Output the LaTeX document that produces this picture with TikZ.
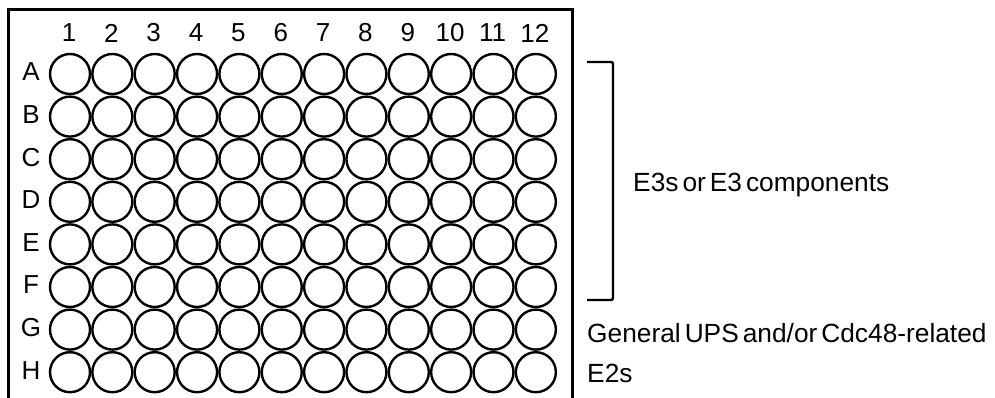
\documentclass[tikz,border=0pt]{standalone}
\usepackage{fontspec}
\setmainfont{Liberation Sans}
\usetikzlibrary{positioning}
\newcommand\tightwords{\spaceskip=4pt plus 1pt\relax}

\begin{document}
\begin{tikzpicture}[x=1pt,y=-1pt,
		well/.style={line width=2.4pt},
		platelbl/.style={inner sep=0pt,font=\fontsize{26}{30}\selectfont},
		sidelbl/.style={inner sep=0pt,anchor=base west,font=\fontsize{26.3}{31}\selectfont\tightwords}]
		\useasboundingbox (0,0) rectangle (995,398);
		% plate outline, open at the bottom
		\draw[line width=3pt] (8,398)--(8,10)--(572,10)--(572,398);
		\foreach \c in {1,...,12}
		\node[platelbl] (col\c) at ({69+42.35*(\c-1)},33) {\c};
		\foreach \l [count=\r from 0] in {A,B,C,D,E,F,G,H}
		{
		\node[platelbl] (row\l) at (31,{72+42.6*\r}) {\l};
		\foreach \c in {1,...,12}
		\draw[well] ({70+42.35*(\c-1)},{74+42.6*\r}) circle (20pt);
		}
		% bracket for rows A-F
		\draw[line width=2.4pt,rounded corners=2pt] (587,62)--(613,62)--(613,300)--(587,300);
		\node[sidelbl] (e3) at (633,192) {E3s or E3 components};
		\node[sidelbl] (gen) at (587,342) {General UPS and/or Cdc48-related};
		\node[sidelbl] (e2) at (587,382) {E2s};
	\end{tikzpicture}
\end{document}
